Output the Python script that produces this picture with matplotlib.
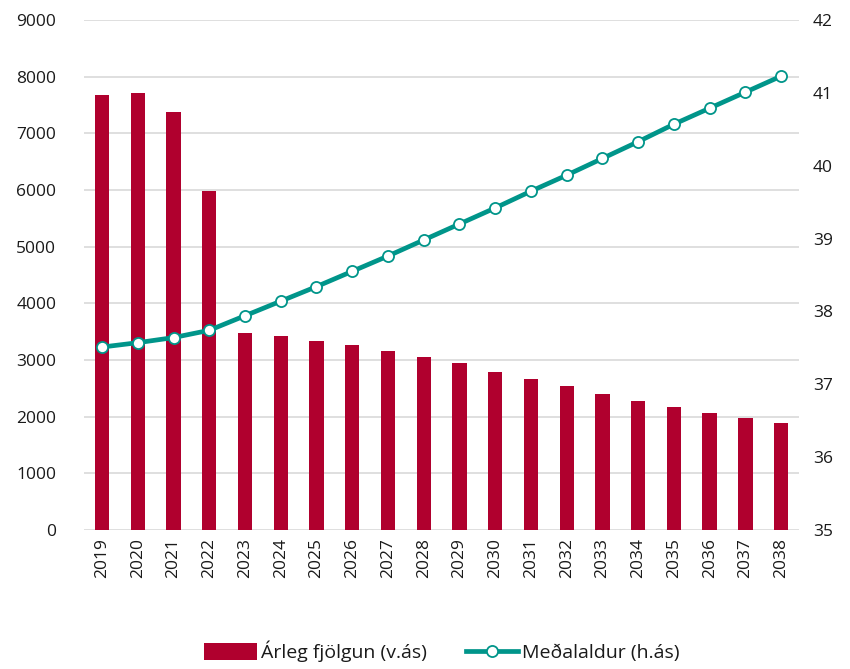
import matplotlib.pyplot as plt

plt.rcParams['font.family'] = ['Open Sans', 'DejaVu Sans']

# Data
years = [str(y) for y in range(2019, 2039)]
arleg_fjolgun = [7680, 7720, 7380, 5985, 3475, 3415, 3330, 3260, 3160, 3045,
                 2940, 2795, 2665, 2535, 2395, 2275, 2165, 2065, 1970, 1880]
medalaldur = [37.51, 37.57, 37.64, 37.74, 37.94, 38.14, 38.34, 38.55, 38.76, 38.98,
              39.20, 39.42, 39.65, 39.87, 40.10, 40.33, 40.57, 40.79, 41.01, 41.23]

bar_color = '#B0002E'
line_color = '#00958A'
grid_color = '#D9D9D9'
text_color = '#1A1A1A'

fig = plt.figure(figsize=(8.5, 6.69), dpi=100)
ax = fig.add_axes([0.099, 0.208, 0.841, 0.762])
ax2 = ax.twinx()

x = range(len(years))
bars = ax.bar(x, arleg_fjolgun, width=0.4, color=bar_color, zorder=2,
              label='Árleg fjölgun (v.ás)')
line, = ax2.plot(x, medalaldur, color=line_color, linewidth=3.4, marker='o',
                 markersize=8, markerfacecolor='white', markeredgecolor=line_color,
                 markeredgewidth=1.3, zorder=3, label='Meðalaldur (h.ás)')

ax.set_xlim(-0.5, len(years) - 0.5)
ax.set_ylim(0, 9000)
ax.set_yticks(range(0, 9001, 1000))
ax2.set_ylim(35, 42)
ax2.set_yticks(range(35, 43))

ax.set_xticks(list(x))
ax.set_xticklabels(years, rotation=90)

ax.grid(axis='y', color=grid_color, linewidth=1.2, zorder=0)
ax.set_axisbelow(True)
for a in (ax, ax2):
    for s in a.spines.values():
        s.set_visible(False)
    a.tick_params(length=0, labelsize=12.5, colors=text_color)
ax.tick_params(axis='y', pad=20)
ax.tick_params(axis='x', pad=6)
ax2.tick_params(axis='y', pad=10)

fig.legend(handles=[bars, line], loc='lower center', bbox_to_anchor=(0.52, -0.016),
           ncol=2, frameon=False, fontsize=14, handlelength=2.7, handleheight=0.9,
           columnspacing=2.0, handletextpad=0.2, labelcolor=text_color)

fig.savefig('out.png', dpi=100)
